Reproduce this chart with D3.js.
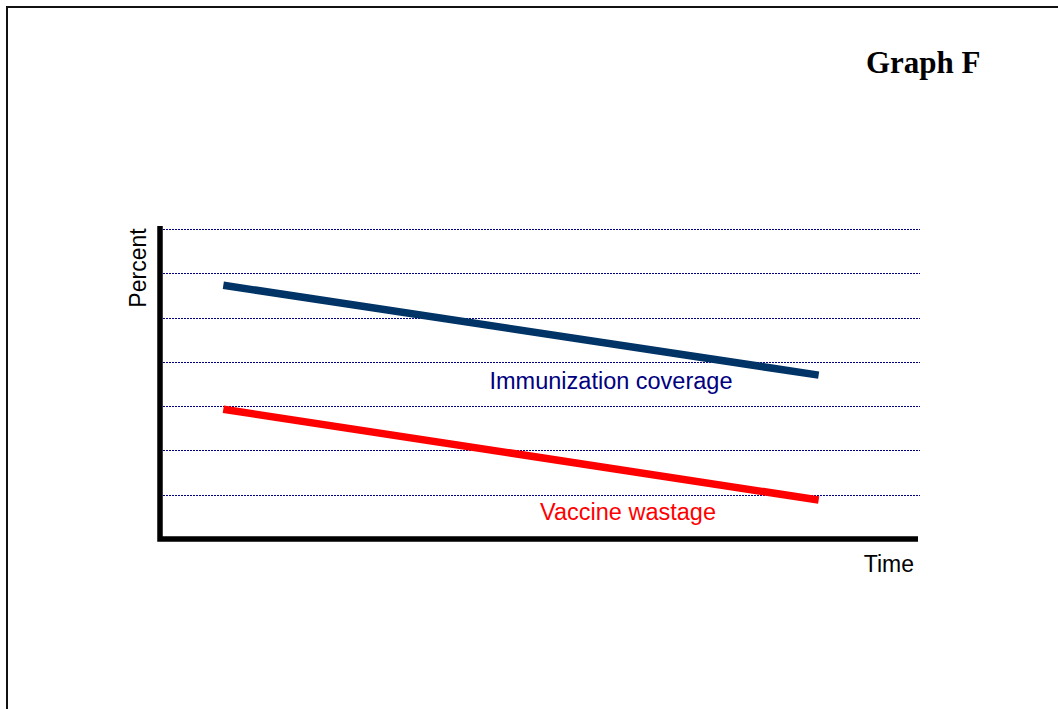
<!DOCTYPE html>
<html>
<head>
<meta charset="utf-8">
<script src="https://cdn.jsdelivr.net/npm/d3@7"></script>
<style>
  body { margin: 0; background: #fff; }
  svg { display: block; }
</style>
</head>
<body>
<script>
'use strict';
// data
const gridLevels = [1, 2, 3, 4, 5, 6, 7];
const timePoints = [1, 10.4];
const coverage = [5.73, 3.7];
const wastage = [2.93, 0.88];
const seriesNames = ['Immunization coverage', 'Vaccine wastage'];

const svg = d3.select(document.body).append('svg')
  .attr('width', 1058).attr('height', 709);

// frame round the page (no right / bottom edge visible)
svg.append('rect')
  .attr('x', 7).attr('y', 7).attr('width', 1100).attr('height', 760)
  .attr('fill', 'none').attr('stroke', '#111').attr('stroke-width', 2);

svg.append('text')
  .attr('x', 866).attr('y', 73)
  .style('font-family', '"Liberation Serif", "Times New Roman", serif')
  .style('font-weight', 'bold').style('font-size', '31px')
  .text('Graph F');

const x = d3.scaleLinear().domain([0, 12]).range([160, 920]);
const y = d3.scaleLinear().domain([0, 7]).range([539, 229]);

// dotted gridlines
svg.append('g').selectAll('line')
  .data(gridLevels).enter()
  .append('line')
  .attr('x1', x(0) + 3).attr('x2', x(12))
  .attr('y1', d => Math.round(y(d)) + 0.5).attr('y2', d => Math.round(y(d)) + 0.5)
  .attr('stroke', '#000080').attr('stroke-width', 1.2)
  .attr('stroke-dasharray', '2,1');

// axes as thick black lines
const axisLine = d3.line().x(d => d[0]).y(d => d[1]);
svg.append('path')
  .attr('d', axisLine([[x(0), y(7) - 3], [x(0), y(0)], [918, y(0)]]))
  .attr('fill', 'none').attr('stroke', '#000').attr('stroke-width', 5.5)
  .attr('stroke-linejoin', 'miter');

const seriesLine = d3.line().x(d => x(d.t)).y(d => y(d.v));
function drawSeries(values, color){
  const pts = timePoints.map((t, i) => ({t: t, v: values[i]}));
  svg.append('path')
    .attr('d', seriesLine(pts))
    .attr('fill', 'none').attr('stroke', color).attr('stroke-width', 7.5);
}
drawSeries(coverage, '#003366');
drawSeries(wastage, '#ff0000');

const labelFont = '"Liberation Sans", Arial, sans-serif';
svg.append('text')
  .attr('x', 611).attr('y', 389).attr('text-anchor', 'middle')
  .style('font-family', labelFont).style('font-size', '23.5px')
  .attr('fill', '#000080').text(seriesNames[0]);
svg.append('text')
  .attr('x', 628).attr('y', 520).attr('text-anchor', 'middle')
  .style('font-family', labelFont).style('font-size', '23.5px')
  .attr('fill', '#ff0000').text(seriesNames[1]);

svg.append('text')
  .attr('x', 914).attr('y', 572).attr('text-anchor', 'end')
  .style('font-family', labelFont).style('font-size', '23px')
  .text('Time');
svg.append('text')
  .attr('transform', 'translate(146, 268) rotate(-90)')
  .attr('text-anchor', 'middle')
  .style('font-family', labelFont).style('font-size', '23px')
  .text('Percent');
</script>
</body>
</html>
